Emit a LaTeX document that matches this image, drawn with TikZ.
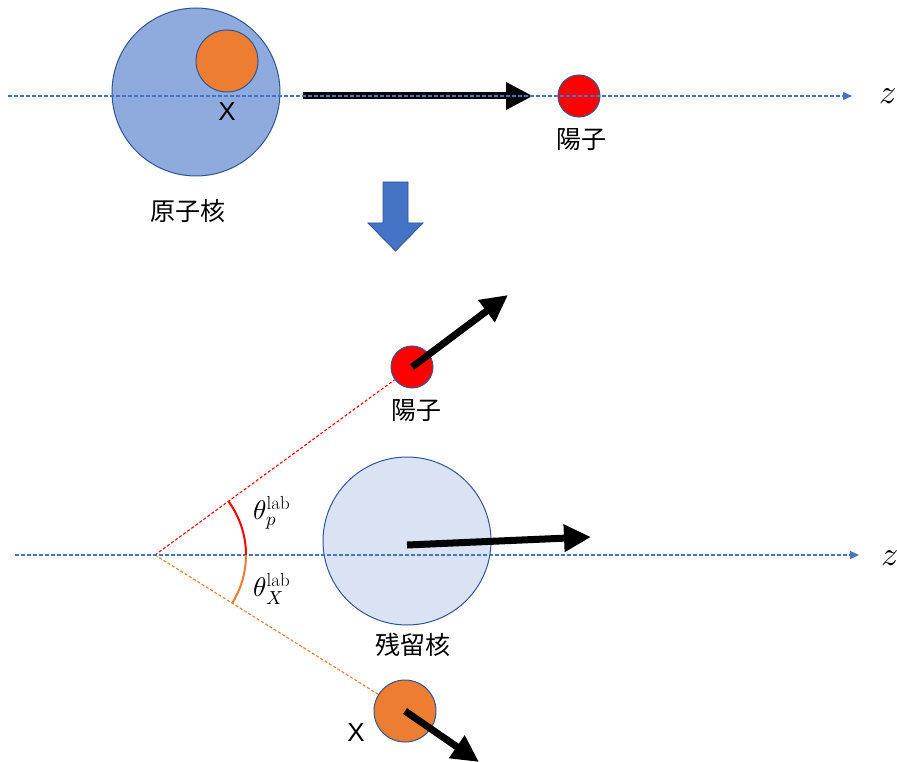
\documentclass[tikz,border=0pt]{standalone}
\usepackage{fontspec}
\usepackage{unicode-math}
\setmathfont{Latin Modern Math}
\newfontfamily\cjk{Noto Sans CJK JP}
\newfontfamily\arialfont{Liberation Sans}
\usetikzlibrary{arrows.meta,calc}
\definecolor{axisblue}{HTML}{4472C4}
\definecolor{nucblue}{HTML}{8FAADC}
\definecolor{lightnuc}{HTML}{DAE3F3}
\definecolor{edgeblue}{HTML}{2F5597}
\definecolor{xorange}{HTML}{ED7D31}
\begin{document}
\begin{tikzpicture}[x=1pt,y=-1pt,
  axis/.style={draw=axisblue,line width=1.2pt,dash pattern=on 4pt off 2pt,-{Triangle[length=9pt,width=8pt]}},
  ball/.style={circle,draw=edgeblue,line width=1pt,inner sep=0pt},
  bigarrow/.style={line width=7pt,-{Triangle[length=27pt,width=26pt]}},
  cjklabel/.style={font=\cjk\fontsize{25}{25}\selectfont},
  xlabel/.style={font=\arialfont\fontsize{26}{26}\selectfont},
  zlabel/.style={font=\fontsize{34}{34}\selectfont},
  anglabel/.style={font=\fontsize{27}{27}\selectfont,inner sep=0pt}]
\useasboundingbox (0,0) rectangle (897,762);
% top row
\node[ball,fill=nucblue,minimum size=168pt] (nuc) at (196,92) {};
\node[ball,fill=xorange,minimum size=62pt] (xin) at (227,61) {};
\node[xlabel] (xtop) at (227,112) {X};
\node[cjklabel] (nuclab) at (188,211) {原子核};
\node[ball,fill=red,minimum size=42pt] (ptop) at (579,96) {};
\node[cjklabel] (ptoplab) at (581,140) {陽子};
\coordinate (a1s) at (303,96);
\coordinate (a1e) at (533,96);
\draw[bigarrow] (a1s) -- (a1e);
\coordinate (ax1s) at (8,96);
\coordinate (ax1e) at (852,96);
\draw[axis] (ax1s) -- (ax1e);
\node[zlabel] (z1) at (888,96) {$z$};
% block arrow
\draw[fill=axisblue,draw=edgeblue,line width=0.8pt]
  (383,182) -- (408,182) -- (408,223) -- (423,223) -- (395.5,251) -- (368,223) -- (383,223) -- cycle;
% bottom
\coordinate (V) at (155,555);
\node[ball,fill=red,minimum size=42pt] (pbot) at (412,367) {};
\node[cjklabel] (pbotlab) at (416,411) {陽子};
\node[ball,fill=lightnuc,minimum size=168pt] (res) at (407,541) {};
\node[cjklabel] (reslab) at (413,645) {残留核};
\node[ball,fill=xorange,minimum size=62pt] (xbot) at (405,711) {};
\node[xlabel] (xbotlab) at (356,733) {X};
\draw[red,line width=1.1pt,dash pattern=on 3pt off 2pt] (V) -- (pbot);
\draw[xorange,line width=1.1pt,dash pattern=on 3pt off 2pt] (V) -- (xbot);
\coordinate (ax2s) at (15,555);
\coordinate (ax2e) at (859,555);
\draw[axis] (ax2s) -- (ax2e);
\node[zlabel] (z2) at (890,558) {$z$};
% angle arcs
\draw[red,line width=2pt] ($(V)+(36.2:91pt)$) arc[start angle=36.2,end angle=0,radius=91pt];
\draw[xorange,line width=2pt] ($(V)+(0:91pt)$) arc[start angle=0,end angle=-32,radius=91pt];
\node[anglabel] (tp) at (272,513) {$\theta_p^{\mathrm{lab}}$};
\node[anglabel] (tx) at (272,589) {$\theta_X^{\mathrm{lab}}$};
% momentum arrows
\coordinate (pe) at (508,295);
\coordinate (rs) at (407,545);
\coordinate (re) at (591,537);
\coordinate (xe) at (479,762);
\draw[bigarrow] (pbot.center) -- (pe);
\draw[bigarrow] (rs) -- (re);
\draw[bigarrow] (xbot.center) -- (xe);
\end{tikzpicture}
\end{document}
